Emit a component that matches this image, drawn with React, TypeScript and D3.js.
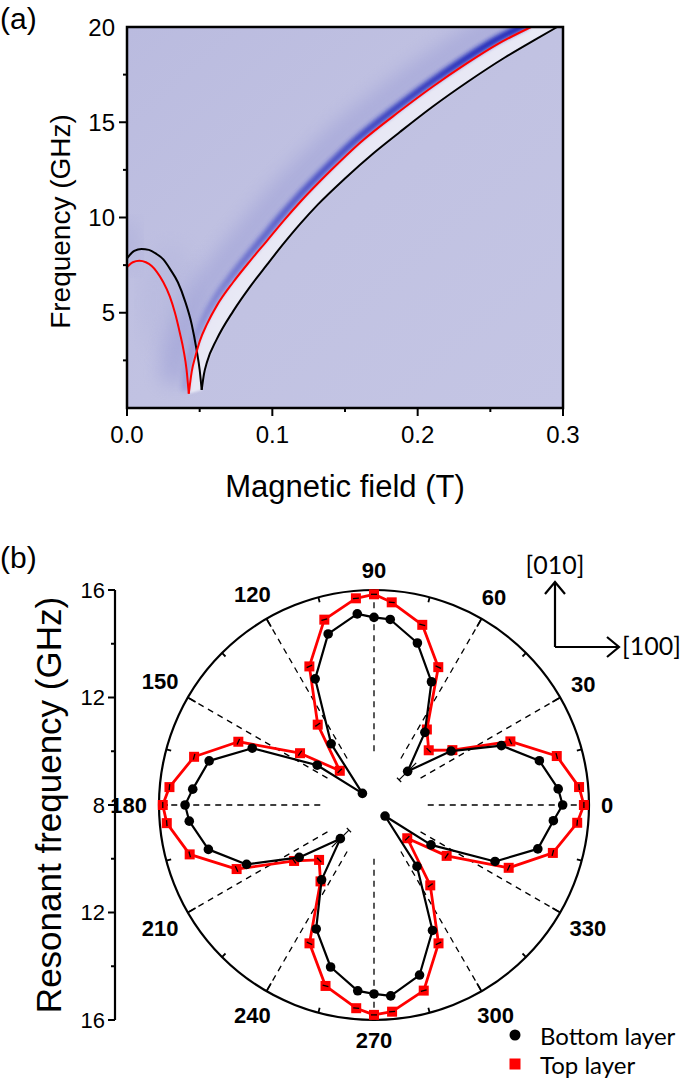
import React from 'react';
import * as d3 from 'd3';

// panel (a): dispersion branches, [field (T), frequency (GHz)]
const bottomLeft = [[0, 7.85], [0.005, 8.25], [0.01, 8.35], [0.015, 8.3], [0.02, 8.1], [0.025, 7.8], [0.03, 7.25], [0.035, 6.6], [0.04, 5.6], [0.0445, 4.4], [0.048, 3.0], [0.05, 2.0], [0.0514, 0.95]];
const bottomRight = [[0.0514, 0.95], [0.053, 1.8], [0.055, 2.4], [0.0617, 3.6], [0.0732, 5.1], [0.085, 6.4], [0.0961, 7.5], [0.108, 8.65], [0.119, 9.65], [0.1316, 10.7], [0.15, 12.05], [0.17, 13.4], [0.188, 14.5], [0.21, 15.8], [0.234, 17.1], [0.26, 18.4], [0.28, 19.3], [0.296, 20]];
const topLeft = [[0, 7.4], [0.004, 7.65], [0.0085, 7.73], [0.013, 7.65], [0.017, 7.45], [0.0205, 7.15], [0.025, 6.6], [0.0295, 5.85], [0.033, 5.0], [0.0365, 3.9], [0.039, 3.0], [0.041, 2.0], [0.0425, 0.75]];
const topRight = [[0.0425, 0.75], [0.0445, 1.9], [0.047, 2.7], [0.05, 3.5], [0.055, 4.4], [0.062, 5.4], [0.073, 6.6], [0.085, 7.75], [0.096, 8.75], [0.108, 9.85], [0.119, 10.8], [0.14, 12.45], [0.16, 13.9], [0.188, 15.6], [0.21, 16.85], [0.234, 18.1], [0.255, 19.1], [0.278, 20]];
const fieldTicks = [0, 0.1, 0.2, 0.3];
const freqTicks = [5, 10, 15, 20];

// panel (b): resonant frequency vs in-plane angle
const angles = [0, 5, 15, 25, 35, 45, 55, 65, 75, 85, 90, 95, 105, 115, 125, 135, 145, 155, 165, 175, 180, 185, 195, 205, 215, 225, 235, 245, 255, 265, 270, 275, 285, 295, 305, 315, 325, 335, 345, 355];
const bottomLayer = [15.02, 14.88, 14.37, 13.23, 11.5, 9.77, 11.3, 13.06, 14.24, 14.93, 14.98, 15.14, 14.59, 13.18, 10.78, 8.61, 10.58, 13.0, 14.35, 14.77, 15.03, 14.9, 14.38, 13.23, 11.4, 9.77, 11.4, 13.09, 14.24, 14.94, 15.03, 15.13, 14.55, 13.15, 10.79, 8.58, 10.59, 12.97, 14.31, 14.7];
const topLayer = [15.81, 15.66, 15.04, 13.6, 11.56, 10.88, 11.43, 13.66, 14.94, 15.57, 15.84, 15.72, 15.14, 13.69, 11.65, 9.8, 11.36, 13.57, 14.93, 15.64, 15.86, 15.74, 15.1, 13.64, 11.63, 10.89, 11.47, 13.68, 14.97, 15.59, 15.81, 15.72, 15.15, 13.68, 11.65, 9.75, 11.3, 13.53, 14.89, 15.59];
const radialTicks = [16, 12, 8, 12, 16];
const angleLabels = [0, 30, 60, 90, 120, 150, 180, 210, 240, 270, 300, 330];

const ARIAL = '"Liberation Sans", Arial, sans-serif';
const CALIBRI = 'Lato, "Liberation Sans", sans-serif';

export default function App() {
  const W = 685, H = 1078;

  // ---- panel (a)
  const ax = { left: 127, right: 563, top: 27, bottom: 408 };
  const x = d3.scaleLinear().domain([0, 0.3]).range([ax.left, ax.right]);
  const y = d3.scaleLinear().domain([0, 20]).range([ax.bottom, ax.top]);
  const line = d3.line<number[]>().x(d => x(d[0])).y(d => y(d[1])).curve(d3.curveMonotoneX);
  const poly = d3.line<number[]>().x(d => x(d[0])).y(d => y(d[1]));
  const gapBand = poly([...topRight, ...bottomRight.slice().reverse()]) + 'Z';
  const xMinor = d3.range(0, 0.3001, 0.05);
  const yMinor = d3.range(2.5, 20, 2.5);

  // ---- panel (b)
  const cx = 374, cy = 805, R = 215;
  const r = d3.scaleLinear().domain([8, 16]).range([0, R]);
  const rad = (a: number) => (a * Math.PI) / 180;
  const pt = (a: number, v: number) => [cx + r(v) * Math.cos(rad(a)), cy - r(v) * Math.sin(rad(a))];
  const closed = d3.line<number[]>().curve(d3.curveLinearClosed);
  const blackPts = angles.map((a, i) => pt(a, bottomLayer[i]));
  const redPts = angles.map((a, i) => pt(a, topLayer[i]));
  const ringTicks = d3.range(0, 360, 15);
  const axisX = 115;

  return (
    <svg width={W} height={H} style={{ position: 'absolute', left: 0, top: 0, background: '#fff' }}>
      <defs>
        <linearGradient id="bg" x1="0" y1="0" x2="1" y2="1">
          <stop offset="0" stopColor="#babbdf" />
          <stop offset="0.5" stopColor="#c1c2e2" />
          <stop offset="1" stopColor="#c4c5e4" />
        </linearGradient>
        <linearGradient id="bandFade" gradientUnits="userSpaceOnUse" x1="0" y1={y(3)} x2="0" y2={y(20)}>
          <stop offset="0" stopColor="#3a42c4" stopOpacity="0.2" />
          <stop offset="0.35" stopColor="#3a42c4" stopOpacity="0.7" />
          <stop offset="1" stopColor="#1a24b8" stopOpacity="1" />
        </linearGradient>
        <filter id="blur3"><feGaussianBlur stdDeviation="2.2" /></filter>
        <filter id="blur10"><feGaussianBlur stdDeviation="9" /></filter>
        <filter id="blur1"><feGaussianBlur stdDeviation="1.2" /></filter>
        <clipPath id="plotA">
          <rect x={ax.left} y={ax.top} width={ax.right - ax.left} height={ax.bottom - ax.top} />
        </clipPath>
      </defs>

      {/* (a) background map */}
      <g clipPath="url(#plotA)">
        <rect x={ax.left} y={ax.top} width={ax.right - ax.left} height={ax.bottom - ax.top} fill="url(#bg)" />
        <ellipse cx={x(0.03)} cy={y(5.5)} rx={30} ry={60} fill="#a9abd9" opacity={0.22} filter="url(#blur10)" />
        <ellipse cx={x(0.0)} cy={y(8.5)} rx={14} ry={26} fill="#a0a2d6" opacity={0.3} filter="url(#blur10)" />
        <path d={line(topRight) || ''} transform="translate(-16,-10)" fill="none" stroke="#8f92d2" strokeWidth={28} opacity={0.4} filter="url(#blur10)" />
        <path d={gapBand} fill="#f3f3fa" opacity={0.8} filter="url(#blur1)" />
        <path d={line(topRight) || ''} transform="translate(-4,-3)" fill="none" stroke="url(#bandFade)" strokeWidth={7} filter="url(#blur3)" />
      </g>

      <g fill="none" strokeWidth={2}>
        <path d={line(bottomLeft) || ''} stroke="#000" />
        <path d={line(bottomRight) || ''} stroke="#000" />
        <path d={line(topLeft) || ''} stroke="#ff0000" />
        <path d={line(topRight) || ''} stroke="#ff0000" />
      </g>

      {/* (a) frame and axes */}
      <rect x={ax.left} y={ax.top} width={ax.right - ax.left} height={ax.bottom - ax.top} fill="none" stroke="#000" strokeWidth={2.5} />
      {xMinor.map(v => (
        <line key={'xm' + v} x1={x(v)} x2={x(v)} y1={ax.bottom} y2={ax.bottom + (Math.abs(v * 10 - Math.round(v * 10)) < 1e-6 ? 8 : 4)} stroke="#000" strokeWidth={2} />
      ))}
      {yMinor.map(v => (
        <line key={'ym' + v} x1={ax.left} x2={ax.left - (v % 5 === 0 ? 8 : 4)} y1={y(v)} y2={y(v)} stroke="#000" strokeWidth={2} />
      ))}
      <g fontFamily={ARIAL} fontSize={24} fill="#000">
        {fieldTicks.map(v => (
          <text key={'xl' + v} x={x(v)} y={ax.bottom + 35} textAnchor="middle">{d3.format('.1f')(v)}</text>
        ))}
        {freqTicks.map(v => (
          <text key={'yl' + v} x={ax.left - 12} y={y(v)} textAnchor="end" dominantBaseline="central">{v}</text>
        ))}
      </g>
      <text x={(ax.left + ax.right) / 2} y={497} textAnchor="middle" fontFamily={ARIAL} fontSize={31}>Magnetic field (T)</text>
      <text transform={`translate(70,${(ax.top + ax.bottom) / 2 + 4}) rotate(-90)`} textAnchor="middle" fontFamily={ARIAL} fontSize={28}>Frequency (GHz)</text>
      <text x={0} y={29} fontFamily={ARIAL} fontSize={30}>(a)</text>

      {/* (b) polar plot */}
      <text x={0} y={568} fontFamily={ARIAL} fontSize={30}>(b)</text>
      <circle cx={cx} cy={cy} r={R} fill="none" stroke="#000" strokeWidth={2.2} />
      {angleLabels.map(a => {
        const [x1, y1] = pt(a, 10);
        const [x2, y2] = pt(a, 16);
        return <line key={'sp' + a} x1={x1} y1={y1} x2={x2} y2={y2} stroke="#000" strokeWidth={1.3} strokeDasharray="6 5" />;
      })}
      {ringTicks.map(a => {
        const len = a % 30 === 0 ? 9 : 5;
        const [x1, y1] = pt(a, 16);
        const [x2, y2] = [cx + (R - len) * Math.cos(rad(a)), cy - (R - len) * Math.sin(rad(a))];
        return <line key={'rt' + a} x1={x1} y1={y1} x2={x2} y2={y2} stroke="#000" strokeWidth={1.8} />;
      })}
      <g fontFamily={ARIAL} fontSize={22} fontWeight="bold" textAnchor="middle">
        {angleLabels.map(a => {
          const s = String(a);
          const w = s.length * 12.2;
          const off = R + 12 + (w / 2) * Math.abs(Math.cos(rad(a))) + 8 * Math.abs(Math.sin(rad(a)));
          return (
            <text key={'al' + a} x={cx + off * Math.cos(rad(a))} y={cy - off * Math.sin(rad(a))} dominantBaseline="central">{s}</text>
          );
        })}
      </g>

      {/* left radial axis */}
      <line x1={axisX} x2={axisX} y1={cy - R} y2={cy + R} stroke="#000" strokeWidth={2.2} />
      {radialTicks.map((v, i) => {
        const yy = cy + Math.sign(i - 2) * r(v);
        return (
          <g key={'rk' + i}>
            <line x1={axisX} x2={axisX - 7} y1={yy} y2={yy} stroke="#000" strokeWidth={2} />
            <text x={axisX - 10} y={yy} textAnchor="end" dominantBaseline="central" fontFamily={ARIAL} fontSize={22}>{v}</text>
          </g>
        );
      })}
      {[14, 10, 10, 14].map((v, i) => {
        const yy = cy + (i < 2 ? -1 : 1) * r(v);
        return <line key={'rm' + i} x1={axisX} x2={axisX - 4} y1={yy} y2={yy} stroke="#000" strokeWidth={2} />;
      })}
      <text transform={`translate(61,${cy}) rotate(-90)`} textAnchor="middle" fontFamily={ARIAL} fontSize={35}>Resonant frequency (GHz)</text>

      {/* top layer */}
      <path d={closed(redPts) || ''} fill="none" stroke="#ff0000" strokeWidth={2.8} strokeLinejoin="round" />
      {redPts.map(([px, py], i) => {
        const a = rad(angles[i]);
        const tx = Math.sin(a) * 3, ty = Math.cos(a) * 3;
        return (
          <g key={'rp' + i}>
            <rect x={px - 5} y={py - 5} width={10} height={10} fill="#ff0000" />
            <line x1={px - tx} y1={py - ty} x2={px + tx} y2={py + ty} stroke="#000" strokeWidth={1.3} />
          </g>
        );
      })}

      {/* bottom layer */}
      <path d={closed(blackPts) || ''} fill="none" stroke="#000" strokeWidth={2.2} strokeLinejoin="round" />
      {[45, 225].map(a => {
        const i = angles.indexOf(a);
        const [x1, y1] = pt(a, bottomLayer[i] - 0.45);
        const [x2, y2] = pt(a, bottomLayer[i] + 0.45);
        const c = Math.sin(rad(a)) * 3, s = Math.cos(rad(a)) * 3;
        return (
          <g key={'eb' + a} stroke="#000" strokeWidth={1.2}>
            <line x1={x1} y1={y1} x2={x2} y2={y2} />
            <line x1={x1 - c} y1={y1 - s} x2={x1 + c} y2={y1 + s} />
          </g>
        );
      })}
      {blackPts.map(([px, py], i) => (
        <circle key={'bp' + i} cx={px} cy={py} r={4.8} fill="#000" />
      ))}

      {/* crystal axes */}
      <g stroke="#000" strokeWidth={2.2} fill="none">
        <path d="M555,647 V582 M545,594 L555,582 L565,594" />
        <path d="M555,647 H619 M607,637 L619,647 L607,657" />
      </g>
      <text x={555} y={574} textAnchor="middle" fontFamily={CALIBRI} fontSize={25}>[010]</text>
      <text x={622} y={655} fontFamily={CALIBRI} fontSize={25}>[100]</text>

      {/* legend */}
      <circle cx={515} cy={1035} r={5.5} fill="#000" />
      <text x={540} y={1035} dominantBaseline="central" fontFamily={CALIBRI} fontSize={24}>Bottom layer</text>
      <rect x={509.5} y={1058.5} width={11} height={11} fill="#ff0000" />
      <text x={540} y={1064} dominantBaseline="central" fontFamily={CALIBRI} fontSize={24}>Top layer</text>
    </svg>
  );
}
